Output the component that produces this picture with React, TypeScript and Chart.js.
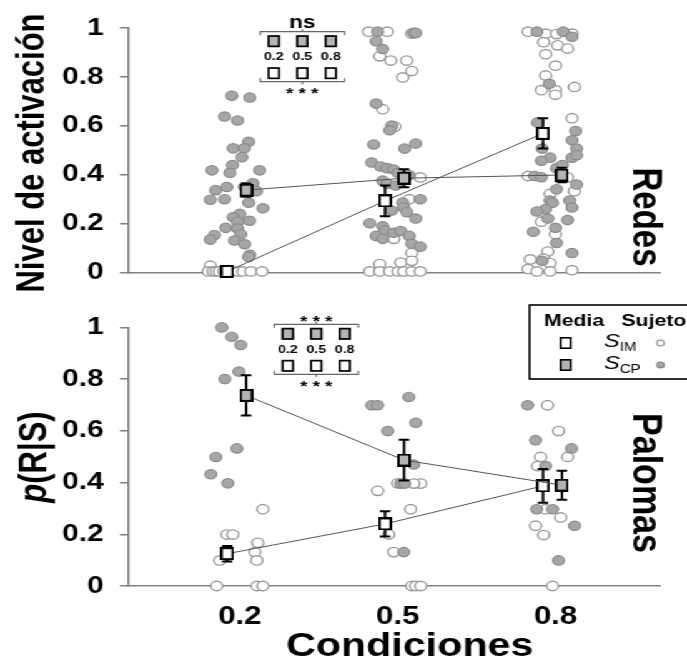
import React, { useEffect, useRef } from 'react';
import { Chart, registerables } from 'chart.js';
Chart.register(...registerables);

// ---------------- data ----------------
const categories = ['0.2', '0.5', '0.8'];
const yTickValues = [0, 0.2, 0.4, 0.6, 0.8, 1];
const yTickLabels = ['0', '0.2', '0.4', '0.6', '0.8', '1'];

// Redes (top panel) means and error (SEM)
const redesMeanIM = [0.005, 0.293, 0.569];
const redesSemIM = [0, 0.063, 0.062];
const redesMeanCP = [0.337, 0.386, 0.399];
const redesSemCP = [0.027, 0.037, 0.03];

// Palomas (bottom panel) means and error (SEM)
const palomasMeanIM = [0.125, 0.24, 0.387];
const palomasSemIM = [0.03, 0.049, 0.065];
const palomasMeanCP = [0.737, 0.487, 0.39];
const palomasSemCP = [0.078, 0.079, 0.056];

// individual subjects [x (condition, jittered), value]
const redesSubjIM: [number, number][] = [
  [0.813, 0.028], [0.80, 0.005], [0.83, 0.005], [0.85, 0.005], [0.87, 0.005], [0.90, 0.005],
  [0.95, 0.005], [0.99, 0.005], [1.02, 0.005], [1.07, 0.005], [1.14, 0.005],
  [1.816, 0.985], [1.934, 0.985], [2.089, 0.977], [1.886, 0.884], [1.956, 0.867], [2.057, 0.867],
  [2.089, 0.824], [2.032, 0.798], [1.905, 0.668], [1.981, 0.597], [2.143, 0.389], [2.073, 0.30],
  [1.975, 0.138], [2.089, 0.08], [2.089, 0.048], [2.019, 0.041], [1.886, 0.035], [1.823, 0.005],
  [1.886, 0.005], [1.949, 0.005], [2.003, 0.005], [2.038, 0.005], [2.089, 0.005], [2.143, 0.005],
  [2.826, 0.985], [2.937, 0.977], [3.006, 0.975], [3.104, 0.977], [2.924, 0.942], [3.013, 0.929],
  [3.076, 0.916], [2.937, 0.893], [2.999, 0.846], [2.937, 0.806], [2.910, 0.746], [2.999, 0.746],
  [2.999, 0.727], [3.119, 0.759], [3.104, 0.631], [2.826, 0.395], [3.076, 0.389], [3.119, 0.333],
  [2.965, 0.322], [2.910, 0.208], [2.999, 0.157], [2.951, 0.086], [2.840, 0.054], [2.924, 0.057],
  [2.965, 0.039], [2.826, 0.015], [2.882, 0.005], [2.965, 0.005], [3.104, 0.01],
];
const redesSubjCP: [number, number][] = [
  [0.949, 0.723], [1.063, 0.716], [0.903, 0.638], [0.986, 0.622], [1.056, 0.535], [0.958, 0.508],
  [1.028, 0.508], [1.013, 0.472], [0.823, 0.418], [0.953, 0.44], [0.937, 0.408], [1.125, 0.418],
  [0.918, 0.35], [0.847, 0.337], [1.028, 0.35], [1.082, 0.365], [1.106, 0.333], [0.813, 0.298],
  [0.903, 0.30], [1.056, 0.286], [1.146, 0.263], [1.0, 0.24], [0.958, 0.226], [1.061, 0.212],
  [0.986, 0.208], [0.911, 0.183], [0.986, 0.18], [1.006, 0.157], [0.839, 0.154], [0.813, 0.135],
  [0.966, 0.131], [1.031, 0.116], [1.063, 0.073], [1.056, 0.064],
  [1.873, 0.985], [1.863, 0.946], [1.905, 0.914], [2.101, 0.98], [2.114, 0.98], [1.863, 0.691],
  [1.962, 0.601], [1.949, 0.582], [1.848, 0.524], [2.114, 0.528], [2.044, 0.507], [1.835, 0.45],
  [1.892, 0.434], [1.934, 0.427], [1.975, 0.421], [2.003, 0.408], [2.073, 0.398], [1.905, 0.376],
  [1.934, 0.363], [1.987, 0.356], [2.143, 0.30], [2.032, 0.286], [2.038, 0.266], [1.962, 0.254],
  [2.057, 0.247], [2.114, 0.221], [1.823, 0.202], [1.905, 0.189], [1.918, 0.172], [1.975, 0.163],
  [2.019, 0.17], [1.863, 0.15], [1.905, 0.138], [2.073, 0.15], [2.089, 0.118], [2.143, 0.106],
  [2.882, 0.985], [3.049, 0.985], [3.104, 0.964], [2.960, 0.772], [2.886, 0.614], [3.127, 0.579],
  [3.104, 0.541], [3.133, 0.507], [3.104, 0.47], [3.133, 0.48], [2.915, 0.507], [2.965, 0.47],
  [2.910, 0.457], [2.867, 0.395], [2.910, 0.39], [3.006, 0.427], [3.043, 0.44], [3.133, 0.36],
  [3.006, 0.341], [2.965, 0.295], [2.980, 0.286], [2.937, 0.26], [3.089, 0.295], [3.104, 0.266],
  [2.882, 0.25], [2.951, 0.221], [3.076, 0.215], [2.859, 0.167], [2.999, 0.183], [3.006, 0.121],
  [3.104, 0.08], [2.915, 0.048],
];
const palomasSubjIM: [number, number][] = [
  [1.146, 0.297], [0.918, 0.199], [0.956, 0.199], [1.114, 0.167], [1.095, 0.131], [0.873, 0.099],
  [1.108, 0.099], [0.854, 0.0], [1.108, 0.0], [1.146, 0.0],
  [1.873, 0.368], [2.146, 0.396], [2.101, 0.396], [2.0, 0.397], [2.082, 0.297], [1.943, 0.199],
  [1.975, 0.131], [2.089, 0.0], [2.114, 0.0], [2.146, 0.0],
  [2.949, 0.699], [3.019, 0.599], [2.905, 0.499], [3.076, 0.499], [2.886, 0.464], [2.937, 0.297],
  [3.032, 0.265], [2.873, 0.233], [2.924, 0.197], [2.981, 0.0],
];
const palomasSubjCP: [number, number][] = [
  [0.886, 1.0], [0.949, 0.964], [1.006, 0.932], [0.994, 0.829], [0.905, 0.8], [0.981, 0.532],
  [0.848, 0.499], [0.816, 0.432], [0.924, 0.397],
  [1.835, 0.699], [1.873, 0.699], [2.07, 0.731], [2.114, 0.631], [1.937, 0.599], [2.101, 0.47],
  [2.019, 0.396], [2.044, 0.396], [2.038, 0.131],
  [2.823, 0.699], [2.873, 0.564], [3.101, 0.532], [2.937, 0.464], [2.880, 0.297], [2.981, 0.297],
  [3.12, 0.233], [3.019, 0.099],
];

// ---------------- layout / style ----------------
const W = 550;
const SX = 687 / W;
const TOP_H = 300;
const BOT_H = 365;
const FONT = "'Liberation Sans', Arial, sans-serif";
const IM_DX = -0.08;
const CP_DX = 0.04;
const GRAY_PT = '#a6a6a6';
const GRAY_PT_EDGE = '#8a8a8a';
const WHITE_PT_EDGE = '#9a9a9a';
const GRAY_SQ = '#b4b4b4';

function makeSquare(fill: string, w = 11, h = 13, lw = 2) {
  const c = document.createElement('canvas');
  c.width = w; c.height = h;
  const g = c.getContext('2d')!;
  g.fillStyle = fill;
  g.fillRect(0, 0, w, h);
  g.strokeStyle = '#000';
  g.lineWidth = lw;
  g.strokeRect(lw / 2, lw / 2, w - lw, h - lw);
  return c;
}

function txt(ctx: CanvasRenderingContext2D, s: string, x: number, y: number, size: number,
  o: { weight?: string; style?: string; align?: CanvasTextAlign; baseline?: CanvasTextBaseline; rot?: number } = {}) {
  ctx.save();
  ctx.translate(x, y);
  if (o.rot) ctx.rotate(o.rot);
  ctx.font = `${o.style || 'normal'} ${o.weight || 'bold'} ${size}px ${FONT}`;
  ctx.textAlign = o.align || 'center';
  ctx.textBaseline = o.baseline || 'middle';
  ctx.fillStyle = '#000';
  ctx.fillText(s, 0, 0);
  ctx.restore();
}

function drawSq(ctx: CanvasRenderingContext2D, x: number, y: number, fill: string, w: number, h: number, lw: number) {
  ctx.save();
  ctx.fillStyle = fill;
  ctx.fillRect(x - w / 2, y - h / 2, w, h);
  ctx.strokeStyle = '#000';
  ctx.lineWidth = lw;
  ctx.strokeRect(x - w / 2 + lw / 2, y - h / 2 + lw / 2, w - lw, h - lw);
  ctx.restore();
}

function drawInset(ctx: CanvasRenderingContext2D, cx: number, y0: number, topText: string, botText: string) {
  const dx = 22.8, half = 33.7;
  ctx.save();
  ctx.strokeStyle = '#666';
  ctx.lineWidth = 1.2;
  ctx.beginPath();
  ctx.moveTo(cx - half, y0 + 3.5); ctx.lineTo(cx - half, y0); ctx.lineTo(cx + half, y0); ctx.lineTo(cx + half, y0 + 3.5);
  ctx.moveTo(cx, y0); ctx.lineTo(cx, y0 - 2.5);
  const yb = y0 + 50;
  ctx.moveTo(cx - half, yb - 3.5); ctx.lineTo(cx - half, yb); ctx.lineTo(cx + half, yb); ctx.lineTo(cx + half, yb - 3.5);
  ctx.moveTo(cx, yb); ctx.lineTo(cx, yb + 2.5);
  ctx.stroke();
  ctx.restore();
  categories.forEach((c, i) => {
    const x = cx + (i - 1) * dx;
    drawSq(ctx, x, y0 + 9.5, GRAY_SQ, 10, 12, 1.7);
    txt(ctx, c, x, y0 + 25.5, 11.5);
    drawSq(ctx, x, y0 + 41.5, '#fff', 10, 12, 1.7);
  });
  const starSize = 15;
  if (topText === 'ns') txt(ctx, 'ns', cx, y0 - 8 + 0.26 * 18, 18, { baseline: 'alphabetic' });
  else txt(ctx, topText, cx, y0 - 7 + 0.59 * starSize, starSize, { baseline: 'alphabetic' });
  txt(ctx, botText, cx, yb + 7.5 + 0.59 * starSize, starSize, { baseline: 'alphabetic' });
}

const errorBarPlugin = {
  id: 'errbars',
  beforeDatasetDraw(chart: any, args: any) {
    const ds = chart.data.datasets[args.index];
    if (!ds.sem) return;
    const ys = chart.scales.y;
    const ctx = chart.ctx;
    ctx.save();
    ctx.strokeStyle = '#000';
    ctx.lineWidth = 2;
    ds.data.forEach((p: any, i: number) => {
      const s = ds.sem[i];
      if (!s) return;
      const el = args.meta.data[i];
      const x = el.x;
      const t = ys.getPixelForValue(p.y + s);
      const b = ys.getPixelForValue(p.y - s);
      ctx.beginPath();
      ctx.moveTo(x, t); ctx.lineTo(x, b);
      ctx.moveTo(x - 4.2, t); ctx.lineTo(x + 4.2, t);
      ctx.moveTo(x - 4.2, b); ctx.lineTo(x + 4.2, b);
      ctx.stroke();
    });
    ctx.restore();
  },
};

function annotPlugin(isTop: boolean) {
  return {
    id: 'annot' + (isTop ? 'T' : 'B'),
    afterDraw(chart: any) {
      const ctx: CanvasRenderingContext2D = chart.ctx;
      if (isTop) {
        txt(ctx, 'Nivel de activación', 26.4, 153, 31, { rot: -Math.PI / 2 });
        txt(ctx, 'Redes', 516, 217, 33, { rot: Math.PI / 2 });
        drawInset(ctx, 242, 31.7, 'ns', '* * *');
      } else {
        // p(R|S) with italic p
        ctx.save();
        ctx.translate(28, 157);
        ctx.rotate(-Math.PI / 2);
        ctx.textBaseline = 'middle';
        ctx.fillStyle = '#000';
        ctx.font = `italic bold 31px ${FONT}`;
        const wp = ctx.measureText('p').width;
        ctx.font = `normal bold 31px ${FONT}`;
        const wr = ctx.measureText('(R|S)').width;
        const x0 = -(wp + wr) / 2;
        ctx.textAlign = 'left';
        ctx.font = `italic bold 31px ${FONT}`;
        ctx.fillText('p', x0, 0);
        ctx.font = `normal bold 31px ${FONT}`;
        ctx.fillText('(R|S)', x0 + wp, 0);
        ctx.restore();

        txt(ctx, 'Palomas', 516, 183, 34, { rot: Math.PI / 2 });
        drawInset(ctx, 253.2, 24.3, '* * *', '* * *');

        // x axis title
        txt(ctx, 'Condiciones', 328, 347, 33, { baseline: 'middle' });

        // legend box
        ctx.save();
        ctx.fillStyle = '#fff';
        ctx.fillRect(424, 5, 140, 74);
        ctx.strokeStyle = '#000';
        ctx.lineWidth = 1.6;
        ctx.strokeRect(424, 5, 140, 74);
        ctx.restore();
        txt(ctx, 'Media', 435.5, 21, 17, { align: 'left' });
        txt(ctx, 'Sujeto', 497.5, 21, 17, { align: 'left' });
        const rows = [
          { fill: '#fff', sub: 'IM', edge: WHITE_PT_EDGE, y: 43 },
          { fill: GRAY_SQ, sub: 'CP', edge: GRAY_PT_EDGE, y: 65 },
        ];
        rows.forEach((r) => {
          drawSq(ctx, 452.8, r.y, r.fill, 9.6, 12, 1.6);
          ctx.save();
          ctx.fillStyle = '#000';
          ctx.textBaseline = 'middle';
          ctx.textAlign = 'left';
          ctx.font = `italic normal 19px ${FONT}`;
          ctx.fillText('S', 483.5, r.y - 1);
          const ws = ctx.measureText('S').width;
          ctx.font = `normal normal 12px ${FONT}`;
          ctx.fillText(r.sub, 483.5 + ws, r.y + 4.5);
          ctx.beginPath();
          ctx.arc(528.8, r.y, 2.9, 0, Math.PI * 2);
          ctx.fillStyle = r.fill === '#fff' ? '#fff' : GRAY_PT;
          ctx.fill();
          ctx.lineWidth = 1.2;
          ctx.strokeStyle = r.edge;
          ctx.stroke();
          ctx.restore();
        });
      }
    },
  };
}

function buildConfig(isTop: boolean): any {
  const meanIM = isTop ? redesMeanIM : palomasMeanIM;
  const semIM = isTop ? redesSemIM : palomasSemIM;
  const meanCP = isTop ? redesMeanCP : palomasMeanCP;
  const semCP = isTop ? redesSemCP : palomasSemCP;
  const subjIM = isTop ? redesSubjIM : palomasSubjIM;
  const subjCP = isTop ? redesSubjCP : palomasSubjCP;
  const sqW = makeSquare('#fff');
  const sqG = makeSquare(GRAY_SQ);
  return {
    type: 'scatter',
    data: {
      datasets: [
        {
          label: 'S_IM media',
          data: meanIM.map((v, i) => ({ x: i + 1 + IM_DX, y: v })),
          sem: semIM,
          showLine: true,
          borderColor: '#555',
          borderWidth: 1,
          pointStyle: sqW,
          pointRadius: 6,
          clip: false,
          order: 1,
        },
        {
          label: 'S_CP media',
          data: meanCP.map((v, i) => ({ x: i + 1 + CP_DX, y: v })),
          sem: semCP,
          showLine: true,
          borderColor: '#555',
          borderWidth: 1,
          pointStyle: sqG,
          pointRadius: 6,
          clip: false,
          order: 0,
        },
        {
          label: 'S_IM sujeto',
          data: subjIM.map(([x, y]) => ({ x, y })),
          pointRadius: 4.7,
          backgroundColor: '#fff',
          borderColor: WHITE_PT_EDGE,
          borderWidth: 1.4,
          clip: false,
          order: 3,
        },
        {
          label: 'S_CP sujeto',
          data: subjCP.map(([x, y]) => ({ x, y })),
          pointRadius: 4.7,
          backgroundColor: GRAY_PT,
          borderColor: GRAY_PT_EDGE,
          borderWidth: 1.2,
          clip: false,
          order: 2,
        },
      ],
    },
    options: {
      responsive: false,
      animation: false,
      devicePixelRatio: 1,
      layout: { padding: { top: isTop ? 28 : 25, right: 22, bottom: isTop ? 13 : 0, left: 0 } },
      plugins: { legend: { display: false }, tooltip: { enabled: false } },
      events: [],
      scales: {
        x: {
          type: 'linear',
          min: 0.291,
          max: 3.658,
          afterBuildTicks: (s: any) => { s.ticks = categories.map((_, i) => ({ value: i + 1 })); },
          afterFit: (s: any) => { s.height = isTop ? 0 : 79; },
          ticks: {
            display: !isTop,
            autoSkip: false,
            maxRotation: 0,
            padding: 8,
            color: '#000',
            font: { family: FONT, size: 25, weight: 'bold' },
            callback: (v: number) => categories[Math.round(v) - 1] ?? '',
          },
          grid: { display: false },
          border: { display: true, color: '#808080', width: 1.5 },
        },
        y: {
          type: 'linear',
          min: 0,
          max: 1,
          afterBuildTicks: (s: any) => { s.ticks = yTickValues.map((v) => ({ value: v })); },
          afterFit: (s: any) => { s.width = 102.4; },
          ticks: {
            padding: 13,
            color: '#000',
            font: { family: FONT, size: 24, weight: 'bold' },
            callback: (_v: number, i: number) => yTickLabels[i],
          },
          grid: { display: true, drawOnChartArea: false, drawTicks: true, tickLength: 6.4, color: '#808080', lineWidth: 1.5 },
          border: { display: true, color: '#808080', width: 1.5 },
        },
      },
    },
    plugins: [errorBarPlugin, annotPlugin(isTop)],
  };
}

export default function App() {
  const topRef = useRef<HTMLCanvasElement>(null);
  const botRef = useRef<HTMLCanvasElement>(null);
  useEffect(() => {
    const c1 = new Chart(topRef.current!, buildConfig(true));
    const c2 = new Chart(botRef.current!, buildConfig(false));
    return () => { c1.destroy(); c2.destroy(); };
  }, []);
  return (
    <div style={{ position: 'absolute', left: 0, top: 0, width: W, transform: `scaleX(${SX})`, transformOrigin: '0 0', background: '#fff' }}>
      <canvas ref={topRef} width={W} height={TOP_H} style={{ display: 'block', width: W, height: TOP_H }} />
      <canvas ref={botRef} width={W} height={BOT_H} style={{ display: 'block', width: W, height: BOT_H }} />
    </div>
  );
}
